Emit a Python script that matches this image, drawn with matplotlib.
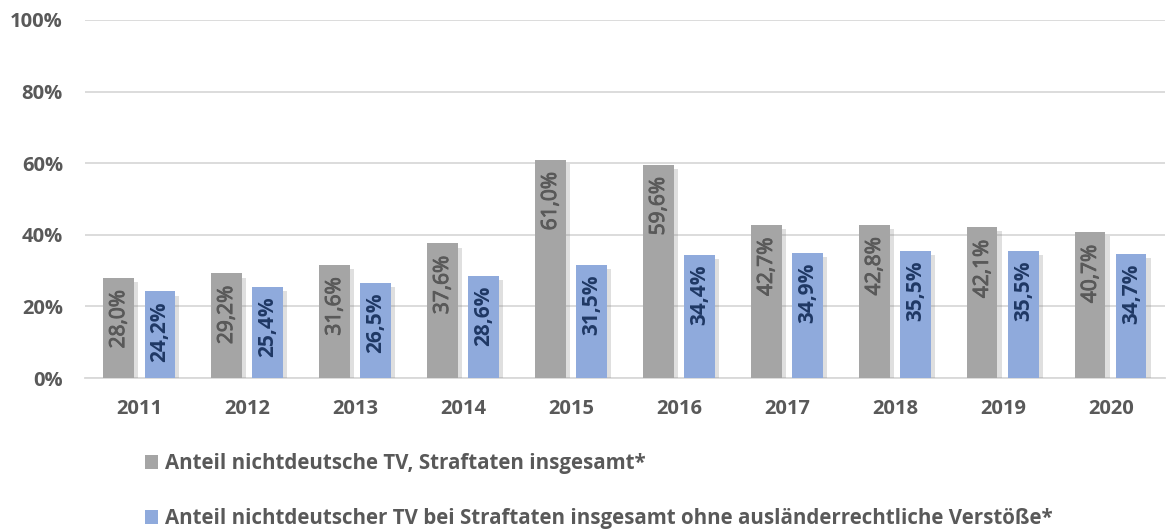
import matplotlib
matplotlib.use("Agg")
import matplotlib.pyplot as plt
import matplotlib.patheffects as pe
from matplotlib.patches import Patch
import numpy as np

years = ["2011", "2012", "2013", "2014", "2015", "2016", "2017", "2018", "2019", "2020"]
gesamt = [28.0, 29.2, 31.6, 37.6, 61.0, 59.6, 42.7, 42.8, 42.1, 40.7]
ohne_ausl = [24.2, 25.4, 26.5, 28.6, 31.5, 34.4, 34.9, 35.5, 35.5, 34.7]
series_names = ["Anteil nichtdeutsche TV, Straftaten insgesamt*",
                "Anteil nichtdeutscher TV bei Straftaten insgesamt ohne ausländerrechtliche Verstöße*"]
yticks = [0, 20, 40, 60, 80, 100]
colors = ['#A5A5A5', '#8FAADC']

plt.rcParams['font.family'] = ['Open Sans', 'DejaVu Sans']

fig = plt.figure(figsize=(11.66, 5.29), dpi=100)
ax = fig.add_axes([0.073, 0.2854, 0.926, 0.677])

x = np.arange(len(years))
w = 0.28
off = 0.19
shadow = [pe.SimplePatchShadow(offset=(3, -3), shadow_rgbFace='#8c8c8c', alpha=0.28), pe.Normal()]
ax.bar(x - off, gesamt, w, color=colors[0], zorder=3, path_effects=shadow)
ax.bar(x + off, ohne_ausl, w, color=colors[1], zorder=3, path_effects=shadow)

def fmt(v):
    return f"{v:.1f}".replace('.', ',') + '%'

thick = [pe.withStroke(linewidth=0.7, foreground='#595959')]
for xi, v in zip(x - off, gesamt):
    ax.annotate(fmt(v), (xi, v), xytext=(0, -9), textcoords='offset points',
                rotation=90, ha='center', va='top', fontsize=15, color='#595959',
                fontweight='normal', zorder=4, path_effects=thick)
for xi, v in zip(x + off, ohne_ausl):
    ax.annotate(fmt(v), (xi, v), xytext=(0, -7), textcoords='offset points',
                rotation=90, ha='center', va='top', fontsize=15, color='#1F3864',
                fontweight='bold', zorder=4)

ax.set_xlim(-0.5, len(years) - 0.5)
ax.set_ylim(0, 100)
ax.set_yticks(yticks)
ax.set_yticklabels([f"{t}%" for t in yticks])
ax.set_xticks(x)
ax.set_xticklabels(years)
ax.yaxis.grid(True, color='#D9D9D9', linewidth=1.3, zorder=0)
ax.set_axisbelow(True)
for s in ['top', 'right', 'left']:
    ax.spines[s].set_visible(False)
ax.spines['bottom'].set_color('#D9D9D9')
ax.spines['bottom'].set_linewidth(1.3)
ax.tick_params(axis='both', length=0, labelsize=14.5, labelcolor='#595959')
ax.tick_params(axis='y', pad=16)
ax.tick_params(axis='x', pad=15)
for lbl in ax.get_xticklabels() + ax.get_yticklabels():
    lbl.set_fontweight('bold')

handles = [Patch(facecolor=c, edgecolor='none') for c in colors]
leg = fig.legend(handles=handles, labels=series_names, loc='upper left',
                 bbox_to_anchor=(0.124, 0.143),
                 ncol=1, frameon=False, fontsize=14.8, labelspacing=1.65,
                 handlelength=0.65, handleheight=0.65, handletextpad=0.35,
                 borderpad=0, borderaxespad=0, labelcolor='#595959')
for t in leg.get_texts():
    t.set_fontweight('bold')

fig.savefig('out.png', dpi=100)
